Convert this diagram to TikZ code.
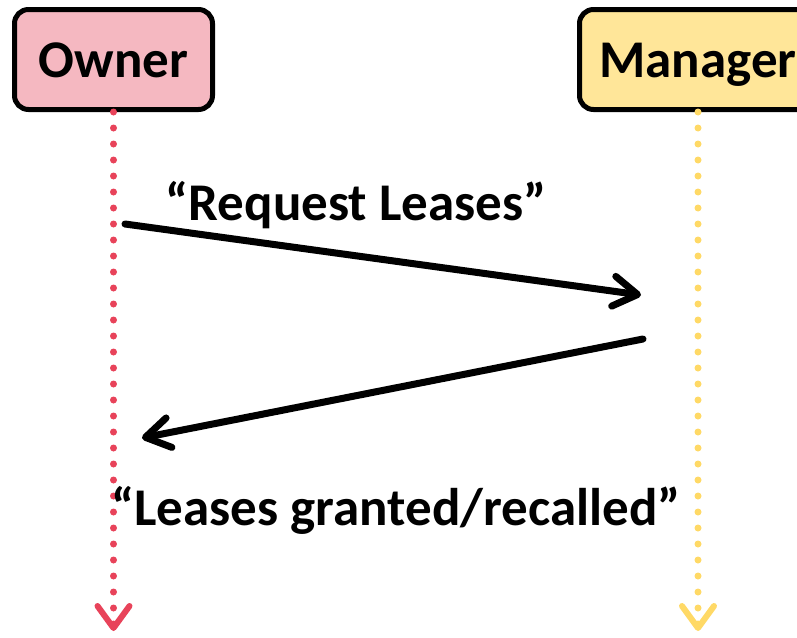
\documentclass[tikz,border=0pt]{standalone}
\usepackage{fontspec}
\setmainfont{Carlito}
\usetikzlibrary{arrows.meta}
\definecolor{ownerfill}{HTML}{F5B8C1}
\definecolor{ownerline}{HTML}{E8435A}
\definecolor{mgrfill}{HTML}{FFE699}
\definecolor{mgrline}{HTML}{FFD966}
\tikzset{
  actor/.style={draw=black, line width=5pt, rounded corners=14pt,
    minimum height=100pt, inner sep=0pt, text height=35pt, text depth=0pt,
    font=\fontsize{53}{60}\selectfont\bfseries},
  lifeline/.style={line width=7pt, line cap=round, dash pattern=on 0pt off 16pt,
    -{Straight Barb[length=22pt, width=32pt, line width=6pt, round]}},
  msg/.style={line width=7pt, line cap=round, black,
    -{Straight Barb[length=24pt, width=30pt, round]}},
  msglabel/.style={anchor=base, inner sep=0pt,
    font=\fontsize{53}{60}\selectfont\bfseries}
}
\begin{document}
\begin{tikzpicture}[x=1pt, y=-1pt]
  \useasboundingbox (0,0) rectangle (797,637);
  \clip (0,0) rectangle (797,637);

  % participants
  \node[actor, fill=ownerfill, minimum width=198pt] (owner) at (113.5,59.5) {Owner};
  \node[actor, fill=mgrfill, minimum width=237pt] (manager) at (698,59.5) {Manager};

  % lifeline ends
  \coordinate (ownerEnd) at (113.5,631);
  \coordinate (managerEnd) at (698,631);

  \draw[lifeline, ownerline] (owner.south) -- (ownerEnd);
  \draw[lifeline, mgrline] (manager.south) -- (managerEnd);

  % message end points
  \coordinate (reqStart) at (125,224);
  \coordinate (reqEnd) at (641,295);
  \coordinate (repStart) at (643,339);
  \coordinate (repEnd) at (142,438);

  \draw[msg] (reqStart) -- (reqEnd);
  \draw[msg] (repStart) -- (repEnd);

  % message labels
  \node[msglabel] (reqLabel) at (356,220) {“Request Leases”};
  \node[msglabel] (repLabel) at (396,525) {“Leases granted/recalled”};
\end{tikzpicture}
\end{document}
